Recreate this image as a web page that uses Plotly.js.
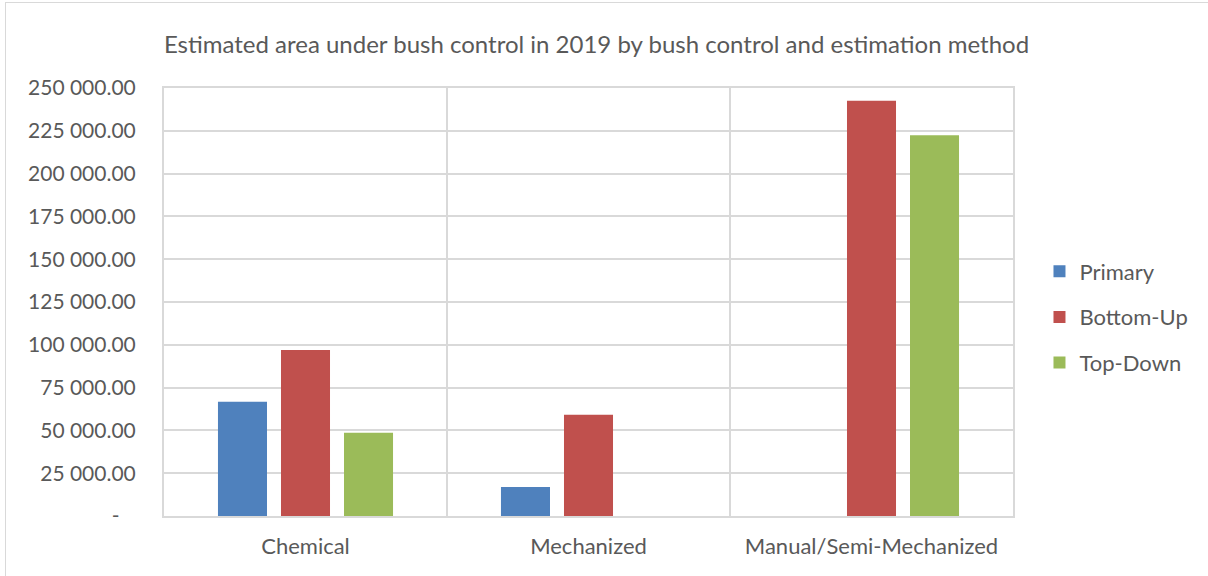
<!DOCTYPE html>
<html>
<head>
<meta charset="utf-8">
<script src="https://cdn.plot.ly/plotly-3.0.1.min.js"></script>
<style>
  html, body { margin: 0; padding: 0; background: #ffffff; }
  #wrap { position: relative; width: 1208px; height: 576px; overflow: hidden; }
  #frame { position: absolute; left: 5px; top: 2px; width: 1300px; height: 700px;
           border-top: 1px solid #d9d9d9; border-left: 1px solid #d9d9d9; pointer-events: none; }
  #chart { position: absolute; left: 0; top: 0; width: 1208px; height: 576px; }
</style>
</head>
<body>
<div id="wrap">
  <div id="chart"></div>
  <div id="frame"></div>
</div>
<script>
// Bush control methods (x categories)
const methods = ["Chemical", "Mechanized", "Manual/Semi-Mechanized"];

// Estimated area (ha) per estimation method
const primary  = [66800, 16900, null];
const bottomUp = [96900, 59200, 242600];
const topDown  = [48700, null, 222400];

// Y-axis ticks, written with a space as the thousands separator
const yTickVals = [0, 25000, 50000, 75000, 100000, 125000, 150000, 175000, 200000, 225000, 250000];
const yTickText = ["-\u00a0\u00a0\u00a0", "25 000.00", "50 000.00", "75 000.00", "100 000.00", "125 000.00",
                   "150 000.00", "175 000.00", "200 000.00", "225 000.00", "250 000.00"];

const FONT = "Lato, 'Open Sans', sans-serif";
const TEXT = "#595959";
const GRID = "#d9d9d9";

function series(name, values, color, group) {
  return {
    type: "bar",
    name: name,
    x: methods,
    y: values,
    marker: { color: color },
    legendgroup: group,
    hoverinfo: "x+y+name"
  };
}

const data = [
  series("Primary", primary, "#4f81bd", "g1"),
  series("Bottom-Up", bottomUp, "#c0504d", "g2"),
  series("Top-Down", topDown, "#9bbb59", "g3")
];

const layout = {
  width: 1208,
  height: 576,
  paper_bgcolor: "#ffffff",
  plot_bgcolor: "#ffffff",
  margin: { l: 164, r: 195, t: 88, b: 60, pad: 0 },
  font: { family: FONT, color: TEXT, size: 21 },
  title: {
    text: "Estimated area under bush control in 2019 by bush control and estimation method",
    font: { family: FONT, size: 24, color: TEXT },
    xref: "container", x: 0.4938, xanchor: "center",
    yref: "container", y: 0.922, yanchor: "middle"
  },
  barmode: "group",
  bargap: 0.332,
  bargroupgap: 0.222,
  xaxis: {
    type: "category",
    tickson: "boundaries",
    showgrid: true,
    gridcolor: GRID,
    gridwidth: 2,
    showline: true,
    linecolor: GRID,
    linewidth: 2,
    mirror: true,
    ticks: "",
    ticklabelstandoff: 10,
    tickfont: { family: FONT, size: 22, color: TEXT },
    fixedrange: true
  },
  yaxis: {
    range: [0, 250000],
    tickvals: yTickVals,
    ticktext: yTickText,
    showgrid: true,
    gridcolor: GRID,
    gridwidth: 2,
    zeroline: false,
    showline: true,
    linecolor: GRID,
    linewidth: 2,
    mirror: true,
    ticks: "",
    ticklabelstandoff: 22,
    tickfont: { family: FONT, size: 21, color: TEXT },
    fixedrange: true
  },
  showlegend: true,
  legend: {
    xref: "container", x: 0.8605, xanchor: "left",
    yref: "container", y: 1 - 317 / 576, yanchor: "middle",
    font: { family: FONT, size: 22, color: TEXT },
    tracegroupgap: 14,
    bgcolor: "rgba(0,0,0,0)",
    itemclick: false,
    itemdoubleclick: false
  }
};

Plotly.newPlot("chart", data, layout, { displayModeBar: false, staticPlot: false });
</script>
</body>
</html>
